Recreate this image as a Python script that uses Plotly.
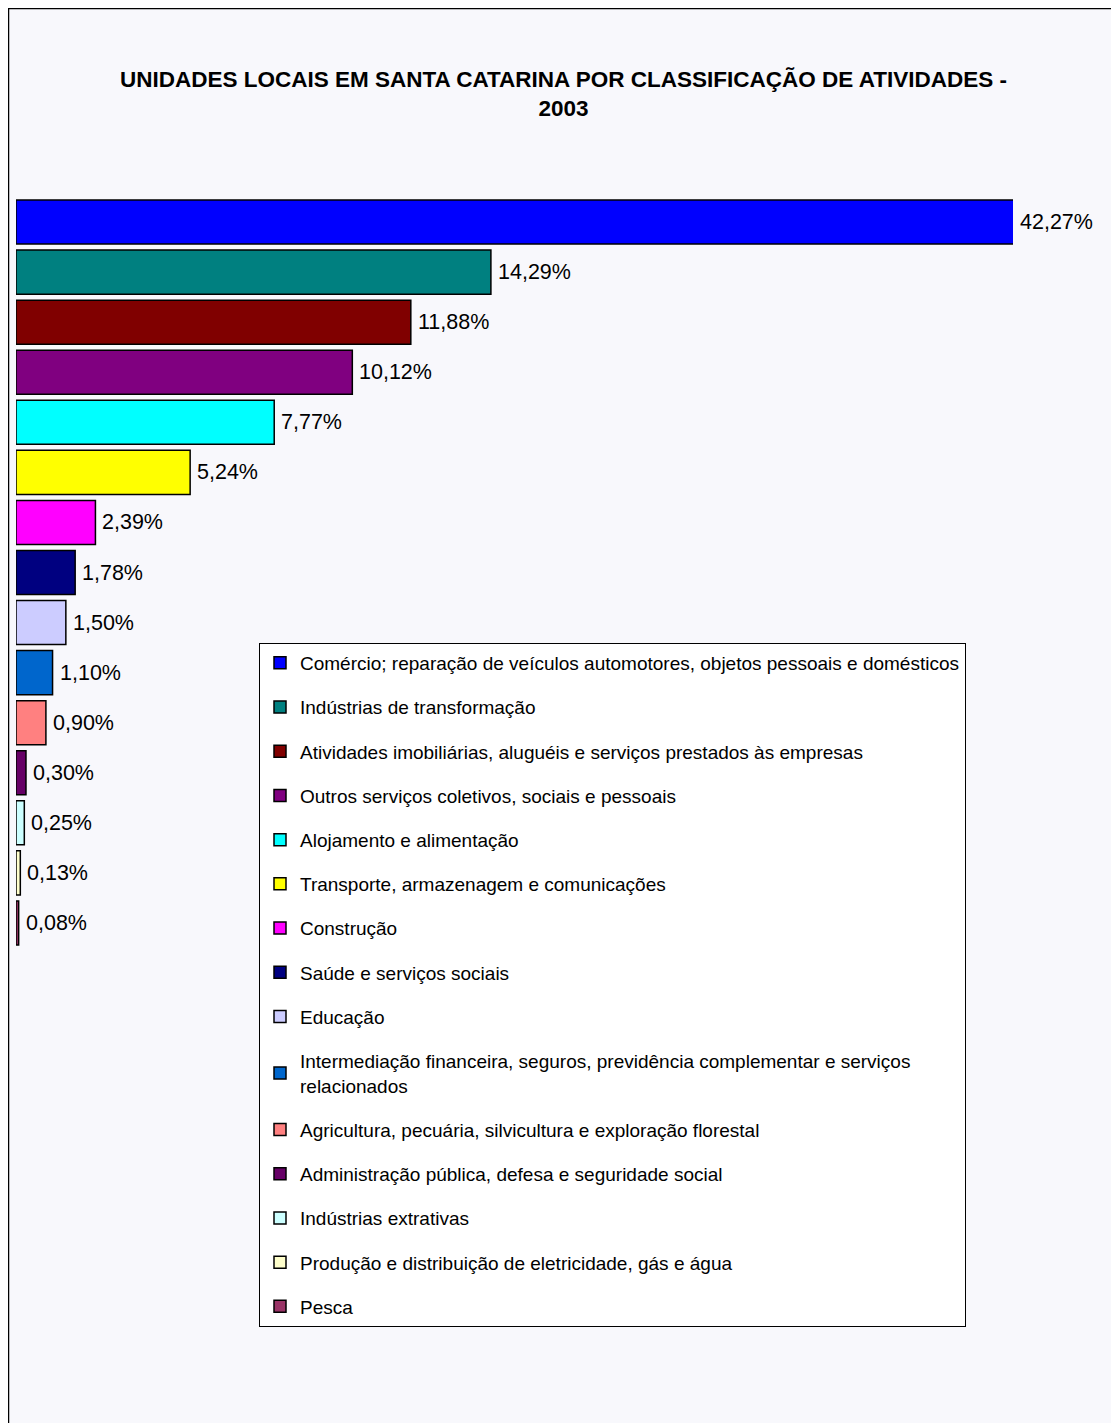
import plotly.graph_objects as go

categories = [
    "Comércio; reparação de veículos automotores, objetos pessoais e domésticos",
    "Indústrias de transformação",
    "Atividades imobiliárias, aluguéis e serviços prestados às empresas",
    "Outros serviços coletivos, sociais e pessoais",
    "Alojamento e alimentação",
    "Transporte, armazenagem e comunicações",
    "Construção",
    "Saúde e serviços sociais",
    "Educação",
    "Intermediação financeira, seguros, previdência complementar e serviços<br>relacionados",
    "Agricultura, pecuária, silvicultura e exploração florestal",
    "Administração pública, defesa e seguridade social",
    "Indústrias extrativas",
    "Produção e distribuição de eletricidade, gás e água",
    "Pesca",
]
values = [42.27, 14.29, 11.88, 10.12, 7.77, 5.24, 2.39, 1.78, 1.50, 1.10, 0.90, 0.30, 0.25, 0.13, 0.08]
colors = ["#0000FF", "#008080", "#800000", "#800080", "#00FFFF", "#FFFF00", "#FF00FF",
          "#000080", "#CCCCFF", "#0066CC", "#FF8080", "#660066", "#CCFFFF", "#FFFFCC", "#993366"]
XMAX = 30

OFF = 8  # page body margin
W, H = 1119 - OFF, 1423 - OFF
# plot area in page pixel coords
PX0, PX1, PY0, PY1 = 16, 1013, 197, 948
L, R, T, B = PX0 - OFF, W - (PX1 - OFF), PY0 - OFF, H - (PY1 - OFF)
pw, ph = W - L - R, H - T - B

def px_x(p):
    return (p - OFF - L) / pw

def px_y(p):
    return (H - B - (p - OFF)) / ph

fig = go.Figure()
for i, (c, v, col) in enumerate(zip(categories, values, colors)):
    fig.add_trace(go.Bar(
        x=[v], y=[i], orientation="h", name=c,
        marker=dict(color=col, line=dict(color="black", width=1.5)),
        legendgroup=str(i), hoverinfo="skip",
    ))

annotations = []
for i, v in enumerate(values):
    annotations.append(dict(
        x=min(v, XMAX), y=i, xref="x", yref="y",
        text=f"{v:.2f}%".replace(".", ","), showarrow=False,
        xanchor="left", yanchor="middle", xshift=5,
        font=dict(family="Arial, Liberation Sans", size=21.5, color="black"),
    ))

fig.update_layout(
    width=W, height=H,
    margin=dict(l=L, r=R, t=T, b=B),
    paper_bgcolor="white",
    plot_bgcolor="rgba(0,0,0,0)",
    barmode="overlay",
    bargap=0.12,
    title=dict(
        text="UNIDADES LOCAIS EM SANTA CATARINA POR CLASSIFICAÇÃO DE ATIVIDADES -<br>2003",
        x=0.5, xref="container", xanchor="center",
        y=1 - (86.5 - OFF) / H, yanchor="middle",
        font=dict(family="Arial, Liberation Sans", size=22.5, color="black", weight="bold"),
    ),
    xaxis=dict(range=[0, XMAX], visible=False, fixedrange=True),
    yaxis=dict(range=[len(values) - 0.5, -0.5], visible=False, fixedrange=True),
    showlegend=True,
    legend=dict(
        x=px_x(259), y=px_y(643), xanchor="left", yanchor="top",
        bgcolor="white", bordercolor="black", borderwidth=1,
        font=dict(family="Arial, Liberation Sans", size=19, color="black"),
        traceorder="grouped", tracegroupgap=16.5,
        itemclick=False, itemdoubleclick=False,
    ),
    annotations=annotations,
    shapes=[dict(
        type="rect", xref="paper", yref="paper", layer="below",
        x0=px_x(8.5), x1=px_x(1130), y0=px_y(1440), y1=px_y(8.5),
        fillcolor="#F8F8FC", line=dict(color="black", width=1.5),
    )],
)

fig.write_html("out.html")
